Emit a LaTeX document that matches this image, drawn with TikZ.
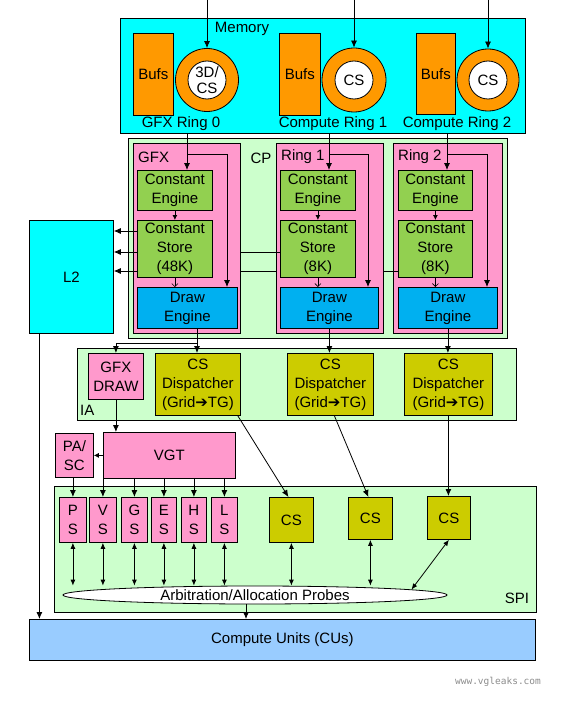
\documentclass[tikz,border=0pt]{standalone}
\usepackage{fontspec}
\setmainfont{Liberation Sans}
\newfontfamily\dejavu{DejaVu Sans}
\newfontfamily\wmfont{DejaVu Sans Mono}
\usetikzlibrary{arrows.meta,shapes.geometric}
\definecolor{memc}{RGB}{0,255,255}
\definecolor{orgc}{RGB}{255,153,0}
\definecolor{grnbg}{RGB}{204,255,204}
\definecolor{pinkc}{RGB}{255,153,204}
\definecolor{engc}{RGB}{146,208,80}
\definecolor{drawc}{RGB}{0,176,240}
\definecolor{dispc}{RGB}{204,204,0}
\definecolor{cuc}{RGB}{153,204,255}
\begin{document}
\begin{tikzpicture}[x=1pt,y=-1pt,
  box/.style={draw=black, line width=0.8pt, inner sep=0pt, align=center, font=\fontsize{15}{19}\selectfont},
  nw/.style={anchor=north west},
  lbl/.style={inner sep=0pt, align=center, font=\fontsize{15}{19}\selectfont},
  arr/.style={-{Latex[length=7pt,width=6pt]}, line width=0.8pt},
  sarr/.style={-{Latex[length=5pt,width=5pt]}, line width=0.8pt},
  thinarr/.style={-{Straight Barb[length=3pt,width=6pt]}, line width=0.6pt},
  barr/.style={{Latex[length=6pt,width=5pt]}-{Latex[length=6pt,width=5pt]}, line width=0.8pt},
  ln/.style={line width=0.8pt},
  ring/.style={circle, draw=black, line width=0.8pt, fill=orgc, inner sep=0pt},
  ringin/.style={circle, draw=black, line width=0.8pt, fill=white, inner sep=0pt, minimum size=38pt, align=center, font=\fontsize{15}{16}\selectfont}
]
\useasboundingbox (0,0) rectangle (562,706);

% ---------------- Memory
\node[box,nw,fill=memc,minimum width=405pt,minimum height=115pt] (mem) at (120,18) {};
\node[lbl] (memlbl) at (242,29) {Memory};
\node[box,nw,fill=orgc,minimum width=40pt,minimum height=82pt] (bufs0) at (133,33) {Bufs};
\node[box,nw,fill=orgc,minimum width=41pt,minimum height=82pt] (bufs1) at (279,33) {Bufs};
\node[box,nw,fill=orgc,minimum width=39pt,minimum height=81pt] (bufs2) at (416,33) {Bufs};
\node[ring,minimum size=63pt] (ring0) at (207,80) {};
\node[ringin] (ring0in) at (ring0.center) {3D/\\CS};
\node[ring,minimum size=64pt] (ring1) at (354,80) {};
\node[ringin] (ring1in) at (ring1.center) {CS};
\node[ring,minimum size=62pt] (ring2) at (488,80) {};
\node[ringin] (ring2in) at (ring2.center) {CS};
\node[lbl] (rl0) at (181,124) {GFX Ring 0};
\node[lbl] (rl1) at (333,124) {Compute Ring 1};
\node[lbl] (rl2) at (457,124) {Compute Ring 2};
\coordinate (in0) at (207,0);
\coordinate (in1) at (354,0);
\coordinate (in2) at (488,0);
\draw[arr] (in0) -- (ring0.north);
\draw[arr] (in1) -- (ring1.north);
\draw[arr] (in2) -- (ring2.north);

% ---------------- CP
\node[box,nw,fill=grnbg,minimum width=379pt,minimum height=200pt] (cp) at (128,138) {};
\node[lbl] (cplbl) at (261,158) {CP};
\node[box,nw,fill=pinkc,minimum width=107pt,minimum height=190pt] (p0) at (133,143) {};
\node[box,nw,fill=pinkc,minimum width=107pt,minimum height=190pt] (p1) at (276,143) {};
\node[box,nw,fill=pinkc,minimum width=109pt,minimum height=190pt] (p2) at (393,143) {};
\node[lbl,anchor=west] (p0lbl) at (138,157) {GFX};
\node[lbl,anchor=west] (p1lbl) at (281,157) {Ring 1};
\node[lbl,anchor=west] (p2lbl) at (398,157) {Ring 2};

\node[box,nw,fill=engc,minimum width=75pt,minimum height=40pt] (ce0) at (137,170) {Constant\\Engine};
\node[box,nw,fill=engc,minimum width=75pt,minimum height=40pt] (ce1) at (280,170) {Constant\\Engine};
\node[box,nw,fill=engc,minimum width=74pt,minimum height=40pt] (ce2) at (398,170) {Constant\\Engine};
\node[box,nw,fill=engc,minimum width=75pt,minimum height=57pt] (cs0) at (137,220) {Constant\\Store\\(48K)};
\node[box,nw,fill=engc,minimum width=75pt,minimum height=57pt] (cs1) at (280,220) {Constant\\Store\\(8K)};
\node[box,nw,fill=engc,minimum width=74pt,minimum height=57pt] (cs2) at (398,220) {Constant\\Store\\(8K)};
\node[box,nw,fill=drawc,minimum width=100pt,minimum height=41pt] (de0) at (137,287) {Draw\\Engine};
\node[box,nw,fill=drawc,minimum width=98pt,minimum height=41pt] (de1) at (280,287) {Draw\\Engine};
\node[box,nw,fill=drawc,minimum width=99pt,minimum height=41pt] (de2) at (398,287) {Draw\\Engine};

\coordinate (k0) at (187,0);
\coordinate (k1) at (329,0);
\coordinate (k2) at (447,0);
\coordinate (j0) at (227,0);
\coordinate (j1) at (368,0);
\coordinate (j2) at (487,0);
\coordinate (brow) at (0,154);
\draw[arr] (k0 |- mem.south) -- (k0 |- ce0.north);
\draw[arr] (k1 |- mem.south) -- (k1 |- ce1.north);
\draw[arr] (k2 |- mem.south) -- (k2 |- ce2.north);
\draw[arr] (k0 |- brow) -| (j0 |- de0.north);
\draw[arr] (k1 |- brow) -| (j1 |- de1.north);
\draw[arr] (k2 |- brow) -| (j2 |- de2.north);
\draw[sarr] (ce0) -- (cs0);
\draw[sarr] (ce1) -- (cs1);
\draw[sarr] (ce2) -- (cs2);
\draw[thinarr] (cs0.south) -- (cs0.south |- de0.north);
\draw[thinarr] (cs1.south) -- (cs1.south |- de1.north);
\draw[thinarr] (cs2.south) -- (cs2.south |- de2.north);

% ---------------- L2
\node[box,nw,fill=memc,minimum width=84pt,minimum height=113pt] (l2) at (29,220) {L2};
\coordinate (ra) at (0,231);
\coordinate (rb) at (0,252);
\coordinate (rc) at (0,271);
\draw[arr] (cs0.west |- ra) -- (l2.east |- ra);
\draw[arr] (cs0.west |- rb) -- (l2.east |- rb);
\draw[arr] (cs0.west |- rc) -- (l2.east |- rc);
\draw[ln] (cs1.west |- rb) -- (p0.east |- rb);
\draw[ln] (cs2.west |- rc) -- (p1.east |- rc);
\draw[ln] (p1.west |- rc) -- (p0.east |- rc);

% ---------------- IA
\node[box,nw,fill=grnbg,minimum width=439pt,minimum height=72pt] (ia) at (77,348) {};
\node[lbl,anchor=west] (ialbl) at (80,410) {IA};
\node[box,nw,fill=pinkc,minimum width=55pt,minimum height=46pt] (gfxdraw) at (88,353) {GFX\\DRAW};
\node[box,nw,fill=dispc,minimum width=85pt,minimum height=62pt] (d1) at (155,353) {CS\\Dispatcher\\(Grid{\dejavu ➔}TG)};
\node[box,nw,fill=dispc,minimum width=86pt,minimum height=62pt] (d2) at (287,353) {CS\\Dispatcher\\(Grid{\dejavu ➔}TG)};
\node[box,nw,fill=dispc,minimum width=88pt,minimum height=62pt] (d3) at (404,353) {CS\\Dispatcher\\(Grid{\dejavu ➔}TG)};
\coordinate (m0) at (197,0);
\coordinate (mrow) at (0,343);
\draw[arr] (m0 |- de0.south) -- (m0 |- d1.north);
\draw[arr] (m0 |- mrow) -| (gfxdraw.north);
\draw[arr] (de1.south) -- (de1.south |- d2.north);
\draw[arr] (de2.south) -- (de2.south |- d3.north);

% ---------------- VGT, PA/SC
\node[box,nw,fill=pinkc,minimum width=132pt,minimum height=46pt] (vgt) at (103,432) {VGT};
\node[box,nw,fill=pinkc,minimum width=38pt,minimum height=44pt] (pasc) at (55,433) {PA/\\SC};
\draw[arr] (gfxdraw.south) -- (gfxdraw.south |- vgt.north);
\draw[sarr] (vgt.west |- pasc.east) -- (pasc.east);

% ---------------- SPI
\node[box,nw,fill=grnbg,minimum width=482pt,minimum height=126pt] (spi) at (54,486) {};
\node[lbl] (spilbl) at (517,598) {SPI};
\node[box,nw,fill=pinkc,minimum width=27pt,minimum height=45pt] (ps) at (59,497) {P\\S};
\node[box,nw,fill=pinkc,minimum width=27pt,minimum height=45pt] (vs) at (89,497) {V\\S};
\node[box,nw,fill=pinkc,minimum width=26pt,minimum height=45pt] (gs) at (121,497) {G\\S};
\node[box,nw,fill=pinkc,minimum width=25pt,minimum height=45pt] (es) at (151,497) {E\\S};
\node[box,nw,fill=pinkc,minimum width=25pt,minimum height=45pt] (hs) at (181,497) {H\\S};
\node[box,nw,fill=pinkc,minimum width=26pt,minimum height=45pt] (ls) at (211,497) {L\\S};
\node[box,nw,fill=dispc,minimum width=44pt,minimum height=45pt] (cs1s) at (269,497) {CS};
\node[box,nw,fill=dispc,minimum width=44pt,minimum height=42pt] (cs2s) at (348,497) {CS};
\node[box,nw,fill=dispc,minimum width=43pt,minimum height=43pt] (cs3s) at (427,496) {CS};

\draw[arr] (ps.north |- pasc.south) -- (ps.north);
\draw[arr] (vs.north |- vgt.south) -- (vs.north);
\draw[arr] (gs.north |- vgt.south) -- (gs.north);
\draw[arr] (es.north |- vgt.south) -- (es.north);
\draw[arr] (hs.north |- vgt.south) -- (hs.north);
\draw[arr] (ls.north |- vgt.south) -- (ls.north);

\draw[arr] ([xshift=-3pt]d1.south east) -- ([xshift=-3pt]cs1s.north);
\draw[arr] ([xshift=4pt]d2.south) -- ([xshift=-2pt]cs2s.north);
\draw[arr] (d3.south) -- (d3.south |- cs3s.north);

\node[ellipse,draw=black,fill=white,line width=0.8pt,minimum width=384pt,minimum height=18pt,inner sep=0pt,
  label={[lbl]center:Arbitration/Allocation Probes}] (ell) at (255,595) {};
\draw[barr] (ps.south) -- (ps.south |- ell.north);
\draw[barr] (vs.south) -- (vs.south |- ell.north);
\draw[barr] (gs.south) -- (gs.south |- ell.north);
\draw[barr] (es.south) -- (es.south |- ell.north);
\draw[barr] (hs.south) -- (hs.south |- ell.north);
\draw[barr] (ls.south) -- (ls.south |- ell.north);
\draw[barr] (cs1s.south) -- (cs1s.south |- ell.north);
\draw[barr] (cs2s.south) -- (cs2s.south |- ell.north);
\draw[barr] (cs3s.south) -- (ell.2);

% ---------------- Compute units
\node[box,nw,fill=cuc,minimum width=506pt,minimum height=41pt] (cu) at (29,619) {Compute Units (CUs)};
\coordinate (eb) at ([xshift=-9pt]ell.south);
\draw[arr] (eb) -- (eb |- cu.north);
\coordinate (lb) at ([xshift=-32pt]l2.south);
\draw[arr] (lb) -- (lb |- cu.north);

\node[text=black!45, inner sep=0pt, font=\wmfont\fontsize{9.5}{10}\selectfont] (wm) at (498,682) {www.vgleaks.com};
\end{tikzpicture}
\end{document}
